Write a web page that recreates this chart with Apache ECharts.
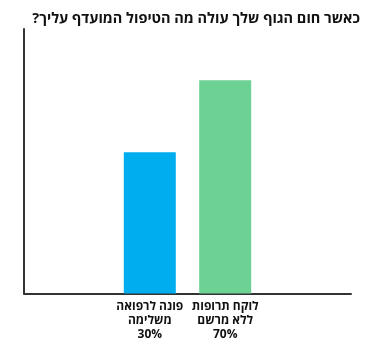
<!DOCTYPE html>
<html>
<head>
<meta charset="utf-8">
<script src="https://cdn.jsdelivr.net/npm/echarts@6/dist/echarts.min.js"></script>
<style>html,body{margin:0;padding:0;background:#fff}#c{width:370px;height:357px}</style>
</head>
<body>
<div id="c"></div>
<script>
const titleText = 'כאשר חום הגוף שלך עולה מה הטיפול המועדף עליך?';
const categories = ['פונה לרפואה\nמשלימה\n30%', 'לוקח תרופות\nללא מרשם\n70%'];
const values = [53.4, 80.6];
const colors = ['#00aeef', '#6dd194'];

const chart = echarts.init(document.getElementById('c'));
const FONT = '"Open Sans", "DejaVu Sans", sans-serif';
chart.setOption({
  animation: false,
  title: {
    text: titleText + '\u200F',
    right: 5,
    top: 6,
    textStyle: { fontFamily: FONT, fontWeight: 'bold', fontSize: 14.5, color: '#111' }
  },
  grid: { left: 24, right: 19, top: 29, bottom: 63.5, containLabel: false },
  xAxis: {
    type: 'category',
    data: [''],
    axisLine: { show: true, lineStyle: { color: '#333', width: 2 } },
    axisTick: { show: false },
    axisLabel: { show: false }
  },
  yAxis: {
    type: 'value', min: 0, max: 100,
    axisLine: { show: true, lineStyle: { color: '#333', width: 2 } },
    axisTick: { show: false },
    axisLabel: { show: false },
    splitLine: { show: false }
  },
  series: categories.map((name, i) => ({
    type: 'bar',
    name: name,
    data: [values[i]],
    barWidth: 52,
    barGap: '45%',
    itemStyle: { color: colors[i] },
    label: {
      show: true,
      position: 'bottom',
      distance: 6,
      formatter: () => name,
      fontFamily: FONT,
      fontWeight: 'bold',
      fontSize: 12,
      lineHeight: 14,
      color: '#111',
      align: 'center'
    }
  }))
});
</script>
</body>
</html>
